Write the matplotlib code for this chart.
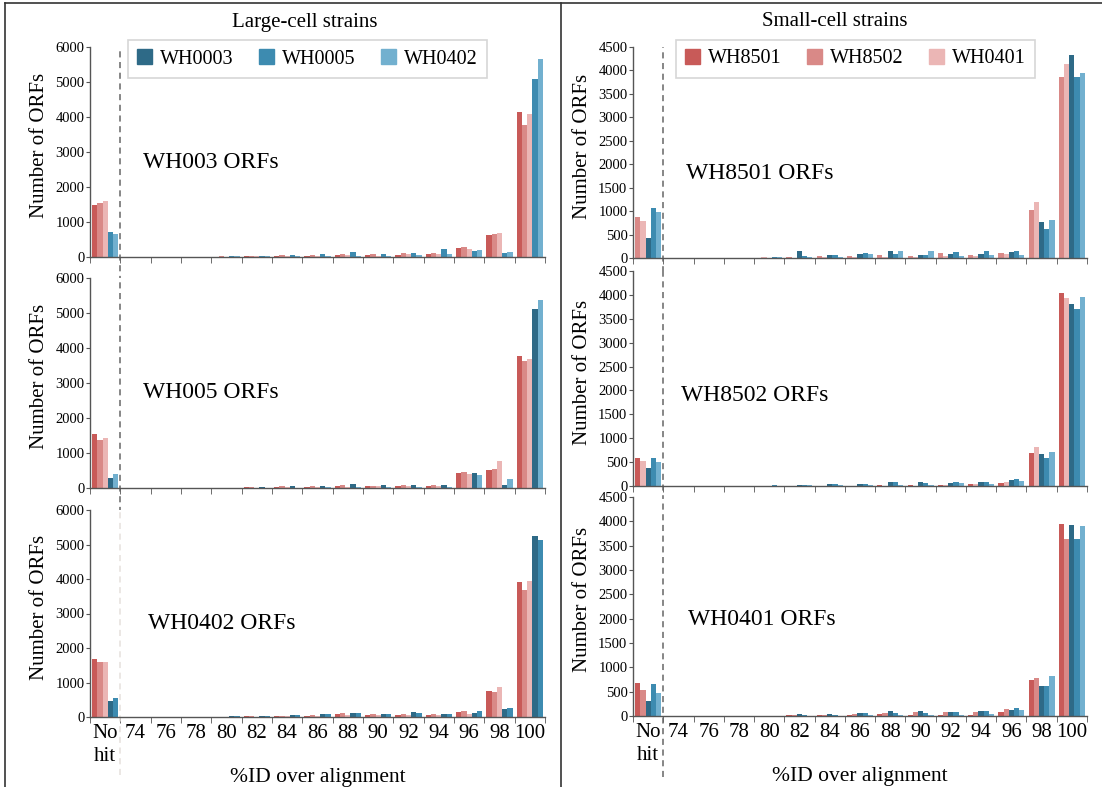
# ORF %ID histograms, large-cell vs small-cell strains

import numpy as np
import matplotlib.pyplot as plt
from matplotlib.lines import Line2D

plt.rcParams['font.family'] = ['Liberation Serif', 'DejaVu Serif']

groups = ['No\nhit', '74', '76', '78', '80', '82', '84', '86', '88', '90',
          '92', '94', '96', '98', '100']

colors = {
    'WH8501': '#c85a58',
    'WH8502': '#d98987',
    'WH0401': '#ebb6b5',
    'WH0003': '#2e6a87',
    'WH0005': '#3d8bb0',
    'WH0402': '#72b0cf',
}

# large-cell strains (left column)
wh003_series = ['WH8501', 'WH8502', 'WH0401', 'WH0005', 'WH0402']
wh003_vals = [
    [1480, 0, 0, 0, 10, 30, 40, 40, 70, 60, 70, 100, 250, 630, 4150],
    [1530, 0, 0, 0, 15, 40, 60, 70, 100, 90, 120, 120, 300, 650, 3780],
    [1600, 0, 0, 5, 10, 30, 30, 30, 50, 40, 80, 80, 220, 680, 4100],
    [720, 0, 0, 5, 20, 40, 50, 80, 150, 90, 110, 220, 160, 120, 5100],
    [660, 0, 0, 0, 15, 20, 30, 20, 40, 40, 70, 80, 190, 130, 5650],
]

wh005_series = ['WH8501', 'WH8502', 'WH0401', 'WH0003', 'WH0402']
wh005_vals = [
    [1540, 0, 0, 0, 5, 20, 30, 30, 60, 50, 60, 70, 430, 510, 3770],
    [1370, 0, 0, 0, 10, 30, 50, 50, 90, 60, 90, 100, 450, 540, 3620],
    [1440, 0, 0, 0, 5, 10, 20, 30, 40, 50, 60, 50, 400, 760, 3700],
    [300, 0, 0, 0, 10, 30, 50, 70, 110, 80, 100, 100, 430, 80, 5110],
    [390, 0, 0, 0, 5, 10, 10, 20, 30, 30, 40, 40, 360, 260, 5370],
]

wh0402_series = ['WH8501', 'WH8502', 'WH0401', 'WH0003', 'WH0005']
wh0402_vals = [
    [1690, 0, 0, 0, 5, 20, 30, 40, 80, 60, 50, 50, 140, 740, 3910],
    [1580, 0, 0, 0, 10, 30, 40, 60, 120, 90, 80, 90, 170, 720, 3690],
    [1600, 0, 0, 0, 5, 10, 20, 40, 50, 50, 50, 70, 100, 880, 3940],
    [450, 0, 0, 0, 20, 30, 50, 80, 120, 100, 140, 90, 120, 230, 5260],
    [560, 0, 0, 0, 15, 30, 50, 80, 110, 90, 110, 80, 170, 270, 5120],
]

# small-cell strains (right column)
wh8501_series = ['WH8502', 'WH0401', 'WH0003', 'WH0005', 'WH0402']
wh8501_vals = [
    [870, 0, 0, 0, 10, 30, 40, 50, 60, 40, 110, 60, 110, 1030, 3870],
    [790, 0, 0, 0, 20, 10, 20, 30, 30, 30, 40, 50, 90, 1190, 4130],
    [430, 0, 0, 0, 10, 150, 60, 80, 140, 60, 90, 90, 130, 760, 4340],
    [1070, 0, 0, 0, 20, 40, 70, 110, 90, 60, 120, 150, 150, 620, 3850],
    [990, 0, 0, 0, 20, 20, 30, 90, 140, 150, 50, 70, 70, 810, 3950],
]

wh8502_series = ['WH8501', 'WH0401', 'WH0003', 'WH0005', 'WH0402']
wh8502_vals = [
    [590, 0, 0, 0, 0, 5, 5, 10, 30, 20, 20, 40, 60, 690, 4030],
    [520, 0, 0, 0, 0, 5, 5, 10, 10, 10, 30, 40, 80, 820, 3930],
    [370, 0, 0, 0, 10, 20, 50, 40, 80, 80, 70, 80, 120, 680, 3810],
    [580, 0, 0, 0, 15, 30, 50, 40, 80, 60, 80, 80, 150, 590, 3700],
    [510, 0, 0, 0, 10, 20, 20, 20, 20, 30, 60, 40, 100, 720, 3950],
]

wh0401_series = ['WH8501', 'WH8502', 'WH0003', 'WH0005', 'WH0402']
wh0401_vals = [
    [680, 0, 0, 0, 5, 15, 20, 30, 40, 30, 20, 30, 80, 740, 3950],
    [540, 0, 0, 0, 5, 20, 30, 40, 70, 80, 80, 80, 140, 780, 3630],
    [310, 0, 0, 0, 10, 40, 40, 60, 110, 100, 90, 110, 130, 610, 3930],
    [660, 0, 0, 0, 10, 30, 30, 60, 70, 70, 80, 110, 160, 620, 3640],
    [480, 0, 0, 0, 5, 10, 10, 20, 30, 30, 30, 40, 130, 820, 3910],
]

W, H = 1102, 787
fig = plt.figure(figsize=(W / 100, H / 100), dpi=100)


def px_axes(x0, x1, ytop, ybot):
    return fig.add_axes([x0 / W, 1 - ybot / H, (x1 - x0) / W, (ybot - ytop) / H])


def draw_panel(ax, series, vals, ymax, ystep, label, lab_pos, last=False, dash_col='#666666'):
    x = np.arange(len(groups))
    bw = 0.172
    n = len(series)
    for i, (name, v) in enumerate(zip(series, vals)):
        off = (i - (n - 1) / 2) * bw
        ax.bar(x + off, v, width=bw, color=colors[name], edgecolor='none')
    ax.set_xlim(-0.5, len(groups) - 0.5)
    ax.set_ylim(0, ymax)
    ax.set_yticks(np.arange(0, ymax + 1, ystep))
    for s in ['top', 'right']:
        ax.spines[s].set_visible(False)
    for s in ['left', 'bottom']:
        ax.spines[s].set_color('#555555')
        ax.spines[s].set_linewidth(1.0)
    ax.tick_params(axis='y', labelsize=10.5, length=3, color='#555555', pad=1)
    ax.set_xticks(x)
    ax.set_xticks(np.arange(-0.5, len(groups)), minor=True)
    ax.tick_params(axis='x', which='major', length=0)
    ax.tick_params(axis='x', which='minor', length=4, color='#555555')
    if last:
        ax.set_xticklabels(groups, fontsize=15, linespacing=1.3, va='top')
        ax.tick_params(axis='x', which='major', pad=5)
        ax.set_xlabel('%ID over alignment', fontsize=15.5, labelpad=1)
        ax.axvline(0.5, ymin=-0.28, ymax=1.0, color=dash_col, ls=(0, (4, 3)),
                   lw=1.1, clip_on=False)
    else:
        ax.set_xticklabels([])
        ax.axvline(0.5, ymin=-0.12, ymax=1.0, color=dash_col, ls=(0, (4, 3)),
                   lw=1.1, clip_on=False)
    ax.set_ylabel('Number of ORFs', fontsize=15)
    ax.yaxis.set_label_coords(-0.09, 0.53)
    ax.text(lab_pos[0], lab_pos[1], label, transform=ax.transAxes, fontsize=17,
            va='center', ha='left')


# left column
axL1 = px_axes(90, 545, 47, 257)
axL2 = px_axes(90, 545, 278, 488)
axL3 = px_axes(90, 545, 510, 717)
draw_panel(axL1, wh003_series, wh003_vals, 6000, 1000, 'WH003 ORFs', (0.116, 0.45))
draw_panel(axL2, wh005_series, wh005_vals, 6000, 1000, 'WH005 ORFs', (0.116, 0.457))
draw_panel(axL3, wh0402_series, wh0402_vals, 6000, 1000, 'WH0402 ORFs', (0.128, 0.454),
           last=True, dash_col='#e6e0dc')

# right column
axR1 = px_axes(633, 1087, 47, 258)
axR2 = px_axes(633, 1087, 271, 486)
axR3 = px_axes(633, 1087, 497, 716)
draw_panel(axR1, wh8501_series, wh8501_vals, 4500, 500, 'WH8501 ORFs', (0.117, 0.40))
draw_panel(axR2, wh8502_series, wh8502_vals, 4500, 500, 'WH8502 ORFs', (0.106, 0.42))
draw_panel(axR3, wh0401_series, wh0401_vals, 4500, 500, 'WH0401 ORFs', (0.122, 0.44),
           last=True)


# legends
def legend_for(ax, names, anchor):
    handles = [plt.Rectangle((0, 0), 1, 1, color=colors[nm]) for nm in names]
    leg = ax.legend(handles, names, ncol=3, loc='upper center', bbox_to_anchor=anchor,
                    fontsize=14.5, frameon=True, fancybox=False, handlelength=0.75,
                    handleheight=0.75, columnspacing=1.25, handletextpad=0.4,
                    borderpad=0.45, borderaxespad=0)
    leg.get_frame().set_edgecolor('#cccccc')
    leg.get_frame().set_linewidth(1.2)


legend_for(axL1, ['WH0003', 'WH0005', 'WH0402'], (0.478, 1.033))
legend_for(axR1, ['WH8501', 'WH8502', 'WH0401'], (0.49, 1.033))

fig.text(305 / W, 1 - 22 / H, 'Large-cell strains', ha='center', va='center', fontsize=15)
fig.text(835 / W, 1 - 22 / H, 'Small-cell strains', ha='center', va='center', fontsize=15)

# outer frame lines
fig.add_artist(Line2D([5 / W, 1], [1 - 3 / H, 1 - 3 / H], color='#333333', lw=1.2))
fig.add_artist(Line2D([5 / W, 5 / W], [0, 1 - 3 / H], color='#333333', lw=1.2))
fig.add_artist(Line2D([561 / W, 561 / W], [0, 1 - 3 / H], color='#333333', lw=1.2))

fig.savefig('out.png', dpi=100)
